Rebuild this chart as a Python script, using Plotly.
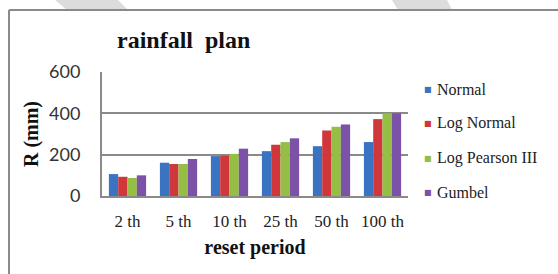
import plotly.graph_objects as go

categories = ["2 th", "5 th", "10 th", "25 th", "50 th", "100 th"]
normal = [106, 161, 193, 217, 241, 261]
log_normal = [93, 155, 195, 248, 317, 372]
log_pearson = [87, 155, 204, 261, 335, 400]
gumbel = [100, 179, 229, 279, 346, 400]
series_names = ["Normal", "Log Normal", "Log Pearson III", "Gumbel"]
y_ticks = [0, 200, 400, 600]

colors = ["#3b73c3", "#cf373a", "#94bf44", "#7b52a8"]
W, H = 558, 274
L, R, T, B = 102, 150, 72, 78
dw, dh = W - L - R, H - T - B

def px(x):
    return (x - L) / dw

def py(y):
    return (H - B - y) / dh

fig = go.Figure()
for i, (name, vals) in enumerate(zip(series_names, [normal, log_normal, log_pearson, gumbel])):
    fig.add_trace(go.Bar(x=categories, y=vals, name=name, marker_color=colors[i],
                         marker_line_width=0, showlegend=False))

shapes = [
    dict(type="path", xref="paper", yref="paper",
         path=f"M {px(55):.4f},{py(0):.4f} L {px(118):.4f},{py(0):.4f} L {px(128):.4f},{py(10):.4f} L {px(67):.4f},{py(10):.4f} Z",
         fillcolor="#dcdcdc", line=dict(width=0), layer="above"),
    dict(type="path", xref="paper", yref="paper",
         path=f"M {px(392):.4f},{py(0):.4f} L {px(447):.4f},{py(0):.4f} L {px(452):.4f},{py(10):.4f} L {px(398):.4f},{py(10):.4f} Z",
         fillcolor="#dcdcdc", line=dict(width=0), layer="above"),
    dict(type="line", xref="paper", yref="paper", x0=px(9), x1=px(W + 5), y0=py(10), y1=py(10),
         line=dict(color="#8a8a8a", width=2), layer="above"),
    dict(type="line", xref="paper", yref="paper", x0=px(9), x1=px(9), y0=py(10), y1=py(H + 5),
         line=dict(color="#8a8a8a", width=2), layer="above"),
]

legend_y = [89, 123, 158, 192]
annotations = []
for name, c, yy in zip(series_names, colors, legend_y):
    annotations.append(dict(xref="paper", yref="paper", x=px(428), y=py(yy), text="■",
                            showarrow=False, xanchor="center", yanchor="middle",
                            font=dict(family="DejaVu Sans", size=8, color=c)))
    annotations.append(dict(xref="paper", yref="paper", x=px(435), y=py(yy), text=name,
                            showarrow=False, xanchor="left", yanchor="middle",
                            font=dict(family="Liberation Serif", size=16, color="#222222")))

fig.update_layout(
    width=W, height=H,
    margin=dict(l=L, r=R, t=T, b=B, pad=0),
    paper_bgcolor="white", plot_bgcolor="white",
    barmode="group", bargap=0.27, bargroupgap=0,
    title=dict(text="<b>rainfall  plan</b>", xref="container", x=117 / W, xanchor="left",
               yref="container", y=1 - 40 / H, yanchor="middle",
               font=dict(family="Liberation Serif", size=24, color="#111111")),
    showlegend=False,
    shapes=shapes,
    annotations=annotations,
    font=dict(family="Liberation Serif"),
)
fig.update_xaxes(
    showline=True, linecolor="#8a8a8a", linewidth=2, ticks="", automargin=False,
    tickfont=dict(family="Liberation Serif", size=17, color="#222222"), ticklabelstandoff=9,
    title=dict(text="<b>reset period</b>", font=dict(family="Liberation Serif", size=20, color="#111111"), standoff=10),
)
fig.update_yaxes(
    range=[0, 600], tickvals=y_ticks, showline=True, linecolor="#8a8a8a", linewidth=2,
    showgrid=True, gridcolor="#8a8a8a", gridwidth=1.5, zeroline=False, ticks="", automargin=False,
    tickfont=dict(family="Lato", size=18, color="#333333"), ticklabelstandoff=16,
    title=dict(text="<b>R (mm)</b>", font=dict(family="Liberation Serif", size=20, color="#111111"), standoff=5),
)

fig.write_html("out.html", config={"displayModeBar": False},
               post_script="document.body.style.margin='0';")
